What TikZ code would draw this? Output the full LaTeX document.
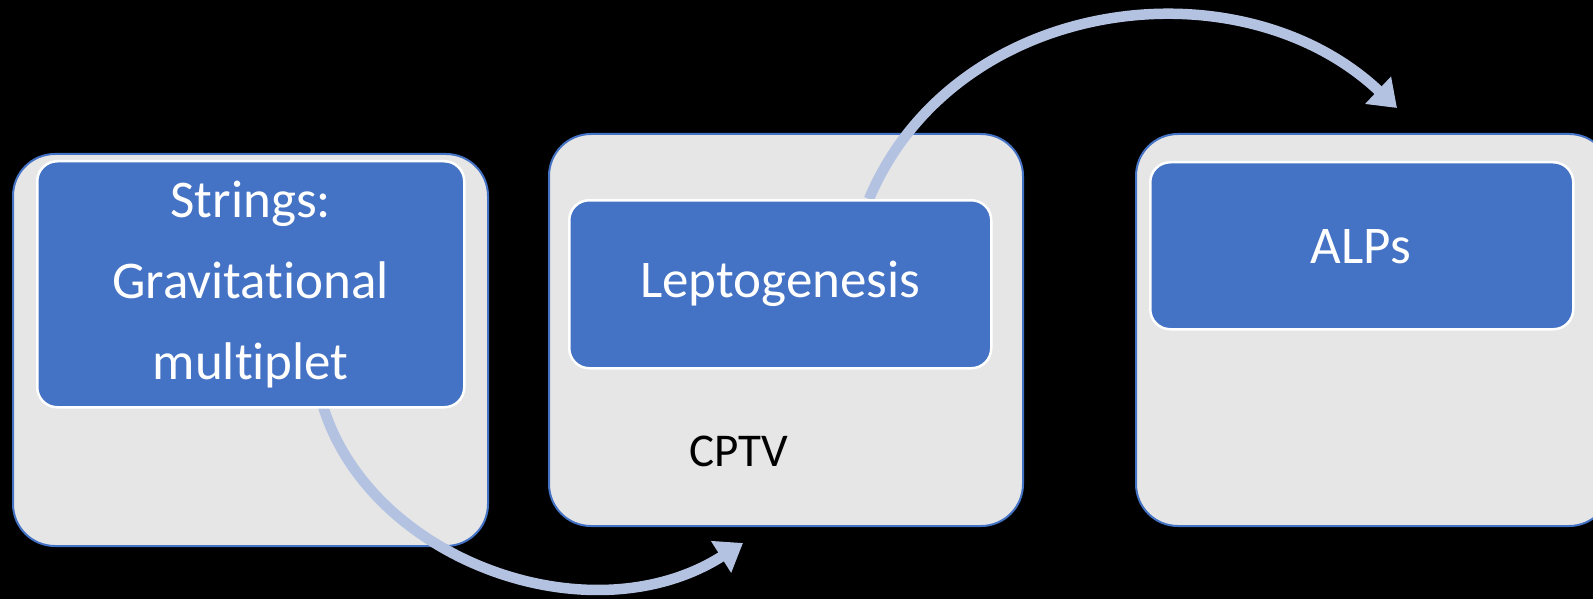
\documentclass[tikz,border=0pt]{standalone}
\usepackage{fontspec}
\setmainfont{Carlito}[Ligatures=NoCommon]
\usetikzlibrary{arrows.meta,calc}
\definecolor{pblue}{HTML}{4472C4}
\definecolor{pgray}{HTML}{E7E6E6}
\definecolor{parrow}{HTML}{B4C2E2}
\begin{document}
\begin{tikzpicture}[x=1pt,y=-1pt,
  outerbox/.style={draw=pblue,line width=2pt,fill=pgray,rounded corners=42pt,anchor=north west,inner sep=0pt},
  innerbox/.style={draw=white,line width=2.5pt,fill=pblue,rounded corners=20pt,anchor=north west,inner sep=0pt},
  boxtext/.style={text=white,font=\fontsize{53}{81}\selectfont,align=center},
  arrowline/.style={draw=parrow,line width=10.5pt,-{Triangle[length=26pt,width=36pt]}}]
\fill[black] (0,0) rectangle (1593,599);
\useasboundingbox (0,0) rectangle (1593,599);
\clip (0,0) rectangle (1593,599);
% outer boxes
\node[outerbox,minimum width=475pt,minimum height=392pt] (o1) at (12,153) {};
\node[outerbox,minimum width=474pt,minimum height=392pt] (o2) at (548,133) {};
\node[outerbox,minimum width=475pt,minimum height=392pt] (o3) at (1135,133) {};
% arrows
\coordinate (a1s) at (323,406);
\coordinate (a1e) at (743,543);
\coordinate (a2s) at (869,199);
\coordinate (a2e) at (1397,108);
\draw[arrowline] (a1s) .. controls (370,560) and (590,640) .. (a1e);
\draw[arrowline] (a2s) .. controls (955,-5) and (1240,-40) .. (a2e);
% inner boxes
\node[innerbox,minimum width=427pt,minimum height=246pt] (i1) at (36,160) {};
\node[innerbox,minimum width=422pt,minimum height=168pt] (i2) at (568,199) {};
\node[innerbox,minimum width=423pt,minimum height=167pt] (i3) at (1149,161) {};
% texts
\node[boxtext] (t1) at (i1.center) {Strings:\\Gravitational\\multiplet};
\node[boxtext] (t2) at (i2.center) {Leptogenesis};
\node[boxtext] (t3) at (1361,247) {ALPs};
\node[font=\fontsize{47}{56}\selectfont,text=black] (t4) at (739,451) {CPTV};
\end{tikzpicture}
\end{document}
